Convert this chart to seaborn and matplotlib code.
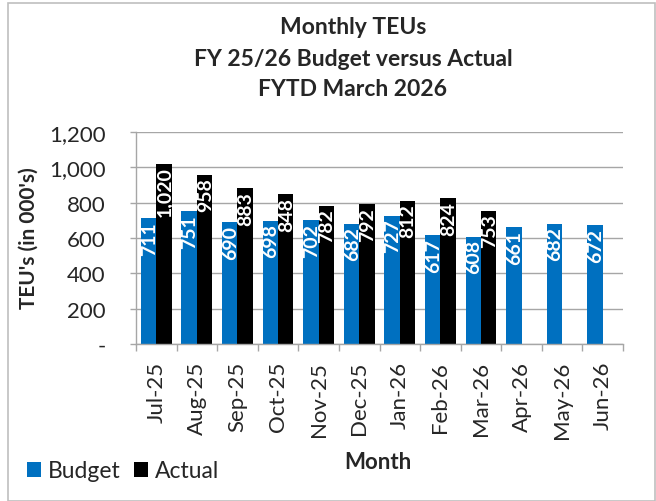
import matplotlib
matplotlib.use("Agg")
import matplotlib.pyplot as plt
import matplotlib.ticker as mticker
from matplotlib.patches import Rectangle
import seaborn as sns
import pandas as pd
import numpy as np

months = ["Jul-25", "Aug-25", "Sep-25", "Oct-25", "Nov-25", "Dec-25",
          "Jan-26", "Feb-26", "Mar-26", "Apr-26", "May-26", "Jun-26"]
budget = [711, 751, 690, 698, 702, 682, 727, 617, 608, 661, 682, 672]
actual = [1020, 958, 883, 848, 782, 792, 812, 824, 753, None, None, None]
series = ["Budget", "Actual"]
colors = ["#0070C0", "#000000"]
yticks = [0, 200, 400, 600, 800, 1000, 1200]

sns.set_theme(style="white")
plt.rcParams["font.family"] = ["Lato", "DejaVu Sans"]

df = pd.DataFrame({
    "Month": months * 2,
    "Series": ["Budget"] * len(months) + ["Actual"] * len(months),
    "Value": budget + actual,
})

W, H = 656, 502
fig = plt.figure(figsize=(W / 100, H / 100), dpi=100)
ax = fig.add_axes([136 / W, 1 - 345 / H, (623 - 136) / W, (345 - 133) / H])

sns.barplot(data=df, x="Month", y="Value", hue="Series", hue_order=series,
            palette=colors, width=0.76, ax=ax, saturation=1, legend=True,
            edgecolor="none", linewidth=0)

ax.set_xlim(-0.5, len(months) - 0.5)
ax.set_ylim(0, 1200)
ax.set_yticks(yticks)
ax.yaxis.set_major_formatter(mticker.FuncFormatter(lambda v, p: "-" if v == 0 else f"{v:,.0f}"))
ax.grid(axis="y", color="#A6A6A6", linewidth=1)
ax.set_axisbelow(True)
for s in ["top", "right"]:
    ax.spines[s].set_visible(False)
for s in ["left", "bottom"]:
    ax.spines[s].set_color("#A6A6A6")
    ax.spines[s].set_linewidth(1)

ax.tick_params(axis="y", labelsize=16, length=4, color="#A6A6A6", width=1, direction="out", pad=18, left=True)
ax.tick_params(axis="x", which="major", labelsize=16, length=0, pad=12, labelrotation=90)
ax.set_xticks(np.arange(-0.5, len(months), 1), minor=True)
ax.tick_params(axis="x", which="minor", length=5, color="#A6A6A6", width=1, direction="out", bottom=True)

ax.set_xlabel("")
ax.set_ylabel("")

for cont in ax.containers:
    for patch in cont:
        h = patch.get_height()
        if h is None or np.isnan(h) or h <= 0:
            continue
        xc = patch.get_x() + patch.get_width() / 2
        ax.annotate(f"{h:,.0f}", (xc, h), xytext=(0.5, -2), textcoords="offset points",
                    rotation=90, ha="center", va="top", color="white",
                    fontsize=14, fontweight="bold")

handles, labels = ax.get_legend_handles_labels()
ax.get_legend().remove()
fig.legend(handles, labels, loc="center left", bbox_to_anchor=(27 / W, 1 - 472 / H),
           frameon=False, fontsize=16.5, ncol=2, handlelength=0.6, handleheight=0.6,
           handletextpad=0.3, columnspacing=0.6, borderaxespad=0, borderpad=0)

fig.text(378 / W, 1 - 463 / H, "Month", ha="center", va="center", fontsize=16, fontweight="bold")
fig.text(29 / W, 1 - 238 / H, "TEU's (in 000's)", ha="center", va="center", rotation=90,
         fontsize=15, fontweight="bold")

for txt, y in [("Monthly TEUs", 28), ("FY 25/26 Budget versus Actual", 59), ("FYTD March 2026", 90)]:
    fig.text(353 / W, 1 - y / H, txt, ha="center", va="center", fontsize=16.5, fontweight="bold")

fig.patches.append(Rectangle((8 / W, 0), 1 - 9 / W, 1 - 4 / H, transform=fig.transFigure,
                             fill=False, edgecolor="#BFBFBF", linewidth=1.2))

fig.savefig("out.png", dpi=100)
